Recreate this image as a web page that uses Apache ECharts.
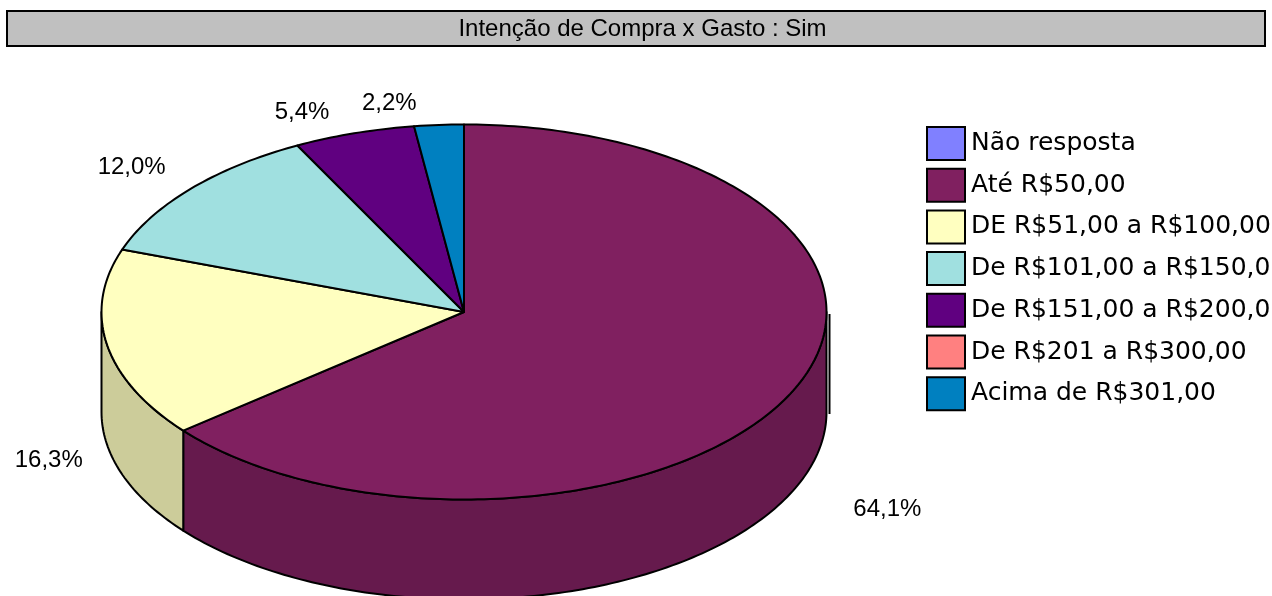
<!DOCTYPE html>
<html>
<head>
<meta charset="utf-8">
<style>
  html, body { margin: 0; padding: 0; background: #fff; overflow: hidden; }
  #chart { width: 1272px; height: 596px; }
</style>
<script src="https://cdn.jsdelivr.net/npm/echarts@6/dist/echarts.min.js"></script>
</head>
<body>
<div id="chart"></div>
<script>
const titleText = "Intenção de Compra x Gasto : Sim";
const categories = [
  "Não resposta",
  "Até R$50,00",
  "DE R$51,00 a R$100,00",
  "De R$101,00 a R$150,00",
  "De R$151,00 a R$200,00",
  "De R$201 a R$300,00",
  "Acima de R$301,00"
];
const values = [0, 64.1, 16.3, 12.0, 5.4, 0, 2.2];
const colors = ["#8080FF", "#802060", "#FFFFC0", "#A0E0E0", "#600080", "#FF8080", "#0080C0"];
const wallColors = ["#6666CC", "#661A4D", "#CCCC9A", "#80B3B3", "#4D0066", "#CC6666", "#006699"];
// nudge of each percent label away from its computed spot
const labelNudge = [[0, 0], [48, 5], [-6, 11], [-19, -4], [-36, 5], [0, 0], [-46, 6]];

const pie = { cx: 464, cy: 312, rx: 362.5, ry: 187.5, depth: 100 };
const total = values.reduce((a, b) => a + b, 0);

// angle in degrees, clockwise from the top of the pie
function pt(deg, dy) {
  const r = (deg * Math.PI) / 180;
  return [pie.cx + pie.rx * Math.sin(r), pie.cy - pie.ry * Math.cos(r) + (dy || 0)];
}
function arc(a, b, dy) {
  const pts = [];
  const n = Math.max(2, Math.ceil(Math.abs(b - a)));
  for (let i = 0; i <= n; i++) pts.push(pt(a + ((b - a) * i) / n, dy));
  return pts;
}

function makeRender(idx) {
  return function (params, api) {
    const v = api.value(0);
    if (!v) return { type: "group", children: [] };
    let before = 0;
    for (let i = 0; i < idx; i++) before += values[i];
    const a = (before / total) * 360;
    const b = ((before + v) / total) * 360;
    const line = { stroke: "#000", lineWidth: 2, lineJoin: "round" };
    const children = [];

    // front wall, only where the slice faces the viewer
    const wa = Math.max(a, 90);
    const wb = Math.min(b, 270);
    if (wb > wa) {
      children.push({
        type: "polygon",
        shape: { points: arc(wa, wb, 0).concat(arc(wb, wa, pie.depth)) },
        style: Object.assign({ fill: wallColors[idx] }, line)
      });
    }
    // slice covering the right end of the wall gets the stray outline of the original
    if (a <= 90 && b >= 90) {
      children.push({
        type: "line",
        shape: { x1: pie.cx + pie.rx + 3, y1: pie.cy + 2, x2: pie.cx + pie.rx + 3, y2: pie.cy + pie.depth + 2 },
        style: { stroke: "#000", lineWidth: 2 }
      });
    }
    // top face
    children.push({
      type: "polygon",
      shape: { points: [[pie.cx, pie.cy]].concat(arc(a, b, 0)) },
      style: Object.assign({ fill: colors[idx] }, line)
    });
    // percent label
    const mid = (a + b) / 2;
    const r = (mid * Math.PI) / 180;
    const k = 1.146;
    const lowered = mid > 90 && mid < 270 ? pie.depth : 0;
    children.push({
      type: "text",
      z2: 10,
      style: {
        text: v.toFixed(1).replace(".", ",") + "%",
        x: pie.cx + pie.rx * k * Math.sin(r) + labelNudge[idx][0],
        y: pie.cy - pie.ry * k * Math.cos(r) + lowered + labelNudge[idx][1],
        align: "center",
        verticalAlign: "middle",
        fontFamily: "Liberation Sans",
        fontSize: 24,
        fill: "#000"
      }
    });
    return { type: "group", children: children };
  };
}

const chart = echarts.init(document.getElementById("chart"));
chart.setOption({
  animation: false,
  backgroundColor: "#fff",
  title: {
    text: titleText,
    left: 642.5,
    top: 17,
    textAlign: "center",
    textStyle: { fontFamily: "Liberation Sans", fontSize: 24, fontWeight: "normal", color: "#000" },
    padding: 0,
    z: 5
  },
  graphic: [
    {
      type: "rect",
      z: 0,
      silent: true,
      shape: { x: 7, y: 11, width: 1258, height: 35 },
      style: { fill: "#C0C0C0", stroke: "#000", lineWidth: 2 }
    }
  ],
  legend: {
    data: categories,
    orient: "vertical",
    left: 926,
    top: 126,
    padding: 0,
    itemWidth: 38,
    itemHeight: 33,
    itemGap: 6.7,
    icon: "rect",
    selectedMode: false,
    itemStyle: { borderColor: "#000", borderWidth: 2 },
    textStyle: { fontFamily: "DejaVu Sans", fontSize: 25, color: "#000", padding: [0, 0, 0, 1] }
  },
  series: categories.map((name, i) => ({
    type: "custom",
    name: name,
    coordinateSystem: "none",
    silent: true,
    itemStyle: { color: colors[i] },
    renderItem: makeRender(i),
    data: [values[i]]
  }))
});
window.addEventListener("resize", function () {
  chart.resize();
});
</script>
</body>
</html>
